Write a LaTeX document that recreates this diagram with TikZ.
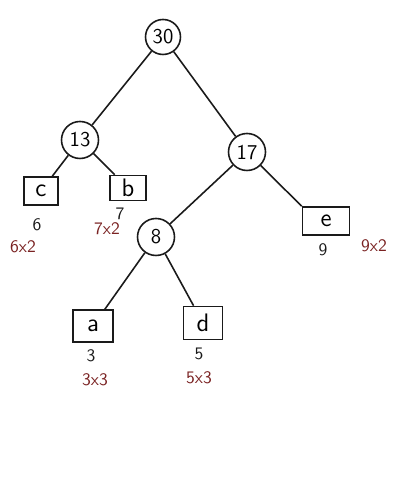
\documentclass[tikz,border=0pt]{standalone}
\usepackage{tikz}
\usetikzlibrary{positioning}
\usepackage{xcolor}
\definecolor{tink}{HTML}{1A1A1A}
\definecolor{tcost}{HTML}{7A2222}
\tikzset{
  inode/.style={draw=tink, circle, line width=0.9pt, minimum size=0.7cm,
                inner sep=0pt, font=\sffamily\large},
  leaf/.style={draw=tink, rectangle, line width=0.9pt, minimum width=0.74cm,
               minimum height=0.56cm, inner sep=0pt, font=\sffamily\Large},
  wt/.style={font=\sffamily, text=tink, inner sep=1pt},
  cost/.style={font=\sffamily, text=tcost, inner sep=1pt},
  edge/.style={line width=0.9pt, tink},
}

\begin{document}
\begin{tikzpicture}
  \useasboundingbox (0,0) rectangle (7.96,9.68);

  %% internal nodes
  \node[inode] (n30) at (3.26, 8.94) {30};
  \node[inode, minimum size=0.74cm] (n13) at (1.60, 6.88) {13};
  \node[inode, minimum size=0.74cm] (n17) at (4.94, 6.64) {17};
  \node[inode, minimum size=0.74cm] (n8) at (3.12, 4.94) {8};

  %% leaves
  \node[leaf, minimum width=0.68cm] (lc) at (0.82, 5.86) {c};
  \node[leaf, minimum width=0.72cm, minimum height=0.5cm] (lb) at (2.56, 5.92) {b};
  \node[leaf, minimum width=0.94cm] (le) at (6.52, 5.26) {e};
  \node[leaf, minimum width=0.8cm, minimum height=0.64cm] (la) at (1.86, 3.16) {a};
  \node[leaf, minimum width=0.78cm, minimum height=0.66cm] (ld) at (4.06, 3.22) {d};

  %% tree edges
  \draw[edge] (n30) -- (n13);
  \draw[edge] (n30) -- (n17);
  \draw[edge] (n13) -- (lc);
  \draw[edge] (n13) -- (lb);
  \draw[edge] (n17) -- (n8);
  \draw[edge] (n17) -- (le.north west);
  \draw[edge] (n8) -- (la);
  \draw[edge] (n8) -- (ld);

  %% frequencies under the leaves
  \node[wt] (w6) at (0.74, 5.18) {6};
  \node[wt] (w7) at (2.40, 5.40) {7};
  \node[wt] (w9) at (6.46, 4.68) {9};
  \node[wt] (w3) at (1.82, 2.56) {3};
  \node[wt] (w5) at (3.98, 2.60) {5};

  %% weight x depth
  \node[cost] (c6) at (0.46, 4.74) {6x2};
  \node[cost] (c7) at (2.14, 5.10) {7x2};
  \node[cost] (c9) at (7.48, 4.76) {9x2};
  \node[cost] (c3) at (1.90, 2.08) {3x3};
  \node[cost] (c5) at (3.98, 2.12) {5x3};

\end{tikzpicture}
\end{document}
